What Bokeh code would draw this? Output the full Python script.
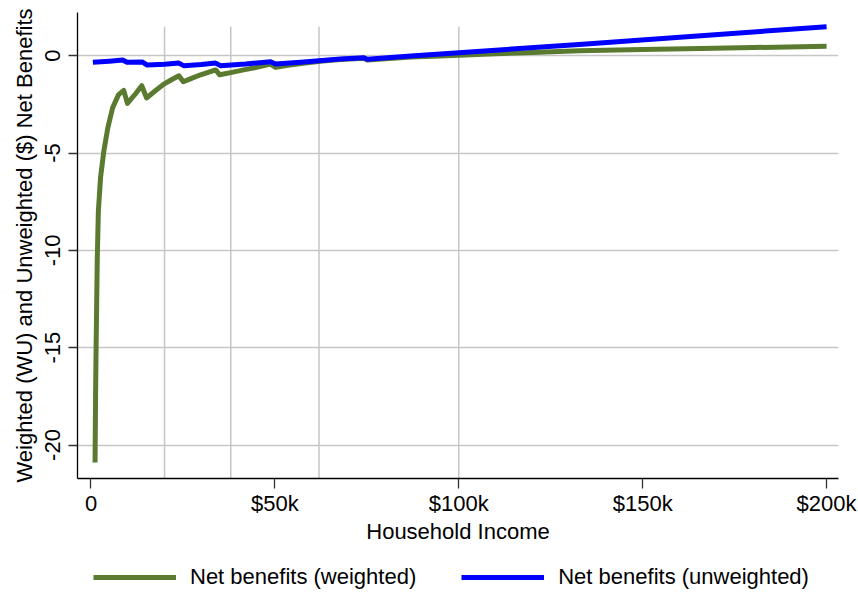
from bokeh.plotting import figure
from bokeh.layouts import column
from bokeh.models import Range1d, FixedTicker, Legend, LegendItem
from bokeh.embed import file_html
from bokeh.resources import INLINE

# Household income in $ thousands
income_weighted = [1.1, 1.25, 1.4, 1.7, 2.0, 2.6, 3.5, 4.6, 5.9, 7.5, 8.9, 9.9, 12.0, 13.8,
                   15.1, 17.5, 19.8, 22.0, 23.9, 25.1, 27.5, 29.8, 33.9, 35.0, 38.0, 41.5,
                   45.0, 48.8, 50.2, 54.0, 58.8, 63.0, 67.8, 74.2, 75.1, 80.0, 87.0, 93.0,
                   100.0, 110.0, 120.0, 132.7, 150.0, 165.8, 180.0, 200.0]
net_weighted = [-20.9, -17.4, -14.8, -10.5, -8.0, -6.25, -4.88, -3.68, -2.66, -2.0, -1.78,
                -2.45, -1.98, -1.54, -2.17, -1.8, -1.46, -1.22, -1.03, -1.34, -1.15, -0.98,
                -0.73, -0.98, -0.87, -0.73, -0.6, -0.43, -0.6, -0.48, -0.36, -0.27, -0.19,
                -0.13, -0.22, -0.16, -0.07, -0.03, 0.03, 0.1, 0.17, 0.26, 0.32, 0.375, 0.42, 0.48]

income_unweighted = [0.5, 5.0, 8.6, 9.8, 13.9, 15.3, 20.0, 23.9, 25.2, 30.0, 33.9, 35.2,
                     42.0, 48.8, 50.2, 57.0, 67.8, 74.2, 75.1, 87.0, 100.0, 132.7, 165.8, 200.0]
net_unweighted = [-0.34, -0.28, -0.22, -0.34, -0.32, -0.48, -0.44, -0.38, -0.51, -0.45,
                  -0.38, -0.51, -0.43, -0.31, -0.43, -0.33, -0.17, -0.1, -0.18, -0.02,
                  0.15, 0.58, 1.03, 1.49]

x_tick_values = [0, 50, 100, 150, 200]
x_tick_labels = ["0", "$50k", "$100k", "$150k", "$200k"]
y_tick_values = [-20, -15, -10, -5, 0]
y_tick_labels = ["-20", "-15", "-10", "-5", "0"]
ref_incomes = [20, 38, 62, 100]

series_labels = ["Net benefits (weighted)", "Net benefits (unweighted)"]
x_title = "Household Income"
y_title = "Weighted (WU) and Unweighted ($) Net Benefits"

FONT = "Liberation Sans"
FS = "22px"
GREEN = "#5a7a30"
BLUE = "#0000ff"
GRID = "#c6c6c6"

y_lo, y_hi = -21.72, 2.22
p = figure(width=858, height=548, output_backend="svg", toolbar_location=None,
           x_range=Range1d(-3.67, 203.24), y_range=Range1d(y_lo, y_hi),
           min_border_left=77, min_border_right=20, min_border_top=12, min_border_bottom=70)
p.outline_line_color = None
p.background_fill_color = "white"
p.border_fill_color = "white"

# axes
p.xaxis.ticker = FixedTicker(ticks=x_tick_values)
p.xaxis.major_label_overrides = dict(zip(x_tick_values, x_tick_labels))
p.yaxis.ticker = FixedTicker(ticks=y_tick_values)
p.yaxis.major_label_overrides = dict(zip(y_tick_values, y_tick_labels))
for ax in (p.xaxis, p.yaxis):
    ax.axis_line_color = "black"
    ax.axis_line_width = 1.3
    ax.major_tick_line_color = "#333333"
    ax.major_tick_line_width = 1.3
    ax.major_tick_in = 0
    ax.minor_tick_line_color = None
    ax.major_label_text_font = FONT
    ax.major_label_text_font_size = FS
    ax.major_label_text_color = "black"
    ax.axis_label_text_font = FONT
    ax.axis_label_text_font_size = FS
    ax.axis_label_text_font_style = "normal"
    ax.axis_label_text_color = "black"
p.xaxis.major_tick_out = 10
p.yaxis.major_tick_out = 9
p.xaxis.major_label_standoff = 2
p.yaxis.major_label_standoff = 8
p.yaxis.major_label_orientation = "parallel"
p.xaxis.axis_label = x_title
p.yaxis.axis_label = y_title
p.xaxis.axis_label_standoff = 0
p.yaxis.axis_label_standoff = 6

# grid
p.xgrid.visible = False
p.ygrid.grid_line_color = GRID
p.ygrid.grid_line_width = 1.5

# reference income lines
ref_top = max(net_unweighted)
p.segment(x0=ref_incomes, y0=[y_lo] * len(ref_incomes), x1=ref_incomes,
          y1=[ref_top] * len(ref_incomes), line_color=GRID, line_width=1.5)

p.line(income_weighted, net_weighted, line_color=GREEN, line_width=5, line_join="round")
p.line(income_unweighted, net_unweighted, line_color=BLUE, line_width=5, line_join="round")

# legend strip below the chart (same series, drawn outside its view so only the key shows)
lf = figure(width=858, height=45, output_backend="svg", toolbar_location=None,
            x_range=Range1d(-3.67, 203.24), y_range=Range1d(100, 101),
            x_axis_location=None, y_axis_location=None,
            min_border_left=77, min_border_right=20, min_border_top=0, min_border_bottom=0)
lf.outline_line_color = None
lf.xgrid.visible = False
lf.ygrid.visible = False
lg = lf.line(income_weighted, net_weighted, line_color=GREEN, line_width=5)
lb = lf.line(income_unweighted, net_unweighted, line_color=BLUE, line_width=5)
legend = Legend(items=[LegendItem(label=series_labels[0], renderers=[lg]),
                       LegendItem(label=series_labels[1], renderers=[lb])],
                orientation="horizontal", location=(16, 3),
                label_text_font=FONT, label_text_font_size=FS, label_text_color="black",
                glyph_width=83, glyph_height=24, label_height=24, label_standoff=14, spacing=45,
                padding=0, margin=0, border_line_color=None, background_fill_alpha=0)
lf.add_layout(legend, "center")

page = column(p, lf, spacing=0)
open("out.html", "w").write(file_html(page, INLINE))
